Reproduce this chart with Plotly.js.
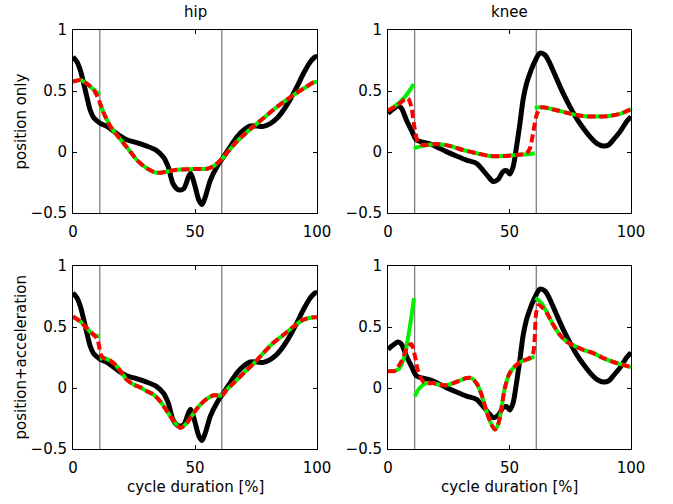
<!DOCTYPE html>
<html>
<head>
<meta charset="utf-8">
<script src="https://cdn.plot.ly/plotly-3.0.1.min.js"></script>
<style>html,body{margin:0;padding:0;background:#fff;}#chart{width:673px;height:504px;}</style>
</head>
<body>
<div id="chart"></div>
<script>
// ---- data ----
const phaseX = [11, 61];

// hip reference (black)
const hipRefX = [0,1.6,3,4.4,5.7,7.1,8.5,11.2,13.9,16.7,19.4,22,26,30,34,37,39,41,43.3,45.4,47.4,48.3,50,51.5,52.9,54.2,56.3,59,61.7,64.5,67.2,70,72.7,75.4,78,81,83.6,86.3,89,91.8,94.5,97.3,99.3,100];
const hipRefY = [0.78,0.74,0.67,0.56,0.45,0.34,0.28,0.235,0.21,0.17,0.13,0.10,0.077,0.05,0.016,-0.04,-0.12,-0.26,-0.31,-0.30,-0.2,-0.175,-0.28,-0.39,-0.43,-0.37,-0.23,-0.12,-0.04,0.044,0.125,0.18,0.213,0.213,0.21,0.235,0.276,0.344,0.43,0.535,0.645,0.74,0.78,0.78];

// hip, position only
const hipPosGreenX = [0,3,5.7,8.5,11,null,11,12.6,15.3,18,20.8,23.5,26.2,30.3,34.4,38.5,42.6,49.5,55,57.7,61,null,61,63,65.8,70,74,78,82,86.3,90.4,94.5,98.6,100];
const hipPosGreenY = [0.577,0.59,0.56,0.51,0.47,null,0.40,0.32,0.21,0.14,0.07,0.003,-0.066,-0.134,-0.17,-0.16,-0.145,-0.14,-0.137,-0.115,-0.06,null,-0.06,-0.01,0.057,0.14,0.21,0.276,0.344,0.41,0.467,0.52,0.57,0.575];
const hipPosRedX = [0,3,5.7,8.5,10.5,12.6,15.3,18,20.8,23.5,26.2,30.3,34.4,38.5,42.6,49.5,55,57.7,60.4,63,65.8,70,74,78,82,86.3,90.4,94.5,98.6,100];
const hipPosRedY = [0.577,0.59,0.56,0.51,0.43,0.32,0.21,0.14,0.07,0.003,-0.066,-0.134,-0.17,-0.16,-0.145,-0.14,-0.137,-0.115,-0.07,-0.01,0.057,0.14,0.21,0.276,0.344,0.41,0.467,0.52,0.57,0.575];

// hip, position + acceleration
const hipAccGreenX = [0,3,5.7,8.5,11,null,11,12.6,15.3,18,20,22,24.9,27.6,30.3,33,35.8,38.5,41.3,44,46.7,49.5,52.2,55,57.7,61,null,61,63,65.8,70,74,78,82,86.3,90.4,94.5,98.6,100];
const hipAccGreenY = [0.586,0.545,0.49,0.436,0.42,null,0.24,0.245,0.223,0.177,0.123,0.068,0.027,0.005,-0.027,-0.054,-0.11,-0.19,-0.27,-0.327,-0.286,-0.204,-0.136,-0.087,-0.06,-0.063,null,-0.063,-0.014,0.04,0.123,0.2,0.286,0.368,0.436,0.504,0.56,0.58,0.58];
const hipAccRedX = [0,3,5.7,8.5,10,11.5,12.6,15.3,18,20,22,24.9,27.6,30.3,33,35.8,38.5,41.3,44,46.7,49.5,52.2,55,57.7,61,63,65.8,70,74,78,82,86.3,90.4,94.5,98.6,100];
const hipAccRedY = [0.586,0.545,0.49,0.436,0.40,0.27,0.245,0.223,0.177,0.123,0.068,0.027,0.005,-0.027,-0.054,-0.11,-0.19,-0.27,-0.327,-0.286,-0.204,-0.136,-0.087,-0.06,-0.063,-0.014,0.04,0.123,0.2,0.286,0.368,0.436,0.504,0.56,0.58,0.58];

// knee reference (black)
const kneeRefX = [0,2,4.1,5.5,7.6,9.6,11.7,14.4,17.2,19.9,24,28.2,32.3,36.4,39.1,41.2,43.3,45.3,47.4,48.8,50.1,51.5,52.9,54.3,55.6,57,58.4,60.4,62.5,64.6,66.6,69.4,72.1,74.9,77.6,80.4,83.1,85.9,88.6,90.7,92.7,95.5,98.2,100];
const kneeRefY = [0.317,0.35,0.377,0.36,0.26,0.18,0.1,0.08,0.066,0.044,0.003,-0.033,-0.066,-0.093,-0.15,-0.2,-0.243,-0.224,-0.16,-0.153,-0.18,-0.12,0.044,0.235,0.43,0.56,0.645,0.74,0.81,0.795,0.727,0.60,0.48,0.37,0.276,0.194,0.126,0.071,0.05,0.057,0.1,0.167,0.25,0.29];

// knee, position only
const kneePosGreenX = [0,3.4,6.9,10.6,null,10.6,14.4,19.9,25.4,30.9,36.4,41.9,47.4,52.9,58.4,60.4,null,60.4,63.5,69,74.5,80,85.4,90.9,95,100];
const kneePosGreenY = [0.34,0.385,0.45,0.557,null,0.03,0.05,0.066,0.05,0.016,-0.01,-0.033,-0.033,-0.025,-0.016,-0.01,null,0.363,0.366,0.344,0.317,0.295,0.29,0.295,0.31,0.35];
const kneePosRedX = [0,3.4,6.9,8.2,9.6,10.9,12.3,14.4,19.9,25.4,30.9,36.4,41.9,47.4,52.9,57,58.4,59.7,61.1,62.5,63.5,69,74.5,80,85.4,90.9,95,100];
const kneePosRedY = [0.34,0.377,0.43,0.44,0.37,0.2,0.085,0.057,0.066,0.05,0.016,-0.01,-0.033,-0.033,-0.025,-0.01,0.03,0.153,0.3,0.358,0.366,0.344,0.317,0.295,0.29,0.295,0.31,0.35];

// knee, position + acceleration
const kneeAccGreenX = [0,2.7,4.8,6.9,8.9,10.7,null,11,13,15.8,18.5,21.3,24,26.8,29.5,32.3,34.3,36.4,38.5,40.5,42.6,44,45.3,46.7,48.1,50.1,52.9,55.6,58.4,60.2,null,60.7,63.2,65.2,68,70.7,73.5,76.2,80.4,84.5,88.6,92.7,96.8,100];
const kneeAccGreenY = [0.14,0.14,0.163,0.27,0.49,0.736,null,-0.068,0,0.04,0.04,0.027,0.022,0.04,0.06,0.082,0.082,0.04,-0.054,-0.19,-0.3,-0.34,-0.3,-0.163,0,0.123,0.19,0.223,0.24,0.26,null,0.74,0.695,0.627,0.518,0.436,0.38,0.35,0.313,0.286,0.245,0.213,0.19,0.17];
const kneeAccRedX = [0,2.7,5.5,8.2,9.6,11,12.4,14.4,15.8,18.5,21.3,24,26.8,29.5,32.3,34.3,36.4,38.5,40.5,42.6,44,45.3,46.7,48.1,50.1,52.9,55.6,57.7,59.5,61,62,63.5,65.2,68,70.7,73.5,76.2,80.4,84.5,88.6,92.7,96.8,100];
const kneeAccRedY = [0.14,0.14,0.218,0.34,0.36,0.27,0.136,0.054,0.04,0.04,0.027,0.022,0.04,0.06,0.082,0.082,0.04,-0.054,-0.19,-0.3,-0.34,-0.3,-0.163,0,0.123,0.19,0.223,0.24,0.27,0.62,0.68,0.66,0.62,0.518,0.436,0.38,0.35,0.313,0.286,0.245,0.213,0.19,0.17];

const xTicks = [0, 50, 100];
const yTicks = [-0.5, 0, 0.5, 1];
const yTickText = ['\u22120.5', '0', '0.5', '1'];
const colTitles = ['hip', 'knee'];
const rowTitles = ['position only', 'position+acceleration'];
const xAxisTitle = 'cycle duration [%]';

// ---- drawing ----
const FONT = 'DejaVu Sans, sans-serif';
const GREEN = '#00f000', RED = '#ff0000', BLACK = '#000000';

function panel(ax, refX, refY, gX, gY, rX, rY) {
  const xa = ax === 1 ? 'x' : 'x' + ax;
  const ya = ax === 1 ? 'y' : 'y' + ax;
  const tr = [];
  phaseX.forEach(p => tr.push({x: [p, p], y: [-0.5, 1], xaxis: xa, yaxis: ya, mode: 'lines',
    line: {color: '#5a5a5a', width: 1}, hoverinfo: 'skip'}));
  tr.push({x: refX, y: refY, xaxis: xa, yaxis: ya, mode: 'lines',
    line: {color: BLACK, width: 5, shape: 'spline', smoothing: 0.8}});
  tr.push({x: gX, y: gY, xaxis: xa, yaxis: ya, mode: 'lines', connectgaps: false,
    line: {color: GREEN, width: 4, shape: 'spline', smoothing: 0.8}});
  tr.push({x: rX, y: rY, xaxis: xa, yaxis: ya, mode: 'lines',
    line: {color: RED, width: 4, dash: '8px,4px', shape: 'spline', smoothing: 0.8}});
  return tr;
}

const data = [].concat(
  panel(1, hipRefX, hipRefY, hipPosGreenX, hipPosGreenY, hipPosRedX, hipPosRedY),
  panel(2, kneeRefX, kneeRefY, kneePosGreenX, kneePosGreenY, kneePosRedX, kneePosRedY),
  panel(3, hipRefX, hipRefY, hipAccGreenX, hipAccGreenY, hipAccRedX, hipAccRedY),
  panel(4, kneeRefX, kneeRefY, kneeAccGreenX, kneeAccGreenY, kneeAccRedX, kneeAccRedY)
);

const W = 673, H = 504;
const xL = [73 / W, 317 / W], xR = [388 / W, 631 / W];
const yT = [1 - 213 / H, 1 - 30 / H], yB = [1 - 449 / H, 1 - 266 / H];

function xax(dom, anchor) {
  return {domain: dom, anchor: anchor, range: [0, 100], tickvals: xTicks, ticktext: xTicks.map(String),
    ticks: 'inside', ticklen: 4, tickcolor: BLACK, showline: true, linecolor: BLACK, linewidth: 1,
    mirror: 'ticks', showgrid: false, zeroline: false, ticklabelstandoff: 5,
    tickfont: {family: FONT, size: 15, color: BLACK}};
}
function yax(dom, anchor) {
  return {domain: dom, anchor: anchor, range: [-0.5, 1], tickvals: yTicks, ticktext: yTickText,
    ticks: 'inside', ticklen: 4, tickcolor: BLACK, showline: true, linecolor: BLACK, linewidth: 1,
    mirror: 'ticks', showgrid: false, zeroline: false, ticklabelstandoff: 2,
    tickfont: {family: FONT, size: 15, color: BLACK}};
}

function ann(text, x, y, angle) {
  return {text: text, x: x, y: y, xref: 'paper', yref: 'paper', showarrow: false,
    xanchor: 'center', yanchor: 'middle', textangle: angle || 0,
    font: {family: FONT, size: 15, color: BLACK}};
}

const layout = {
  width: W, height: H, margin: {l: 0, r: 0, t: 0, b: 0},
  paper_bgcolor: '#fff', plot_bgcolor: '#fff', showlegend: false,
  xaxis: xax(xL, 'y'), yaxis: yax(yT, 'x'),
  xaxis2: xax(xR, 'y2'), yaxis2: yax(yT, 'x2'),
  xaxis3: xax(xL, 'y3'), yaxis3: yax(yB, 'x3'),
  xaxis4: xax(xR, 'y4'), yaxis4: yax(yB, 'x4'),
  annotations: [
    ann(colTitles[0], 195 / W, 1 - 12 / H),
    ann(colTitles[1], 509.5 / W, 1 - 12 / H),
    ann(xAxisTitle, 195 / W, 1 - 487 / H),
    ann(xAxisTitle, 509.5 / W, 1 - 487 / H),
    ann(rowTitles[0], 20 / W, 1 - 121.5 / H, -90),
    ann(rowTitles[1], 20 / W, 1 - 357.5 / H, -90)
  ]
};

Plotly.newPlot('chart', data, layout, {staticPlot: true, displayModeBar: false});
</script>
</body>
</html>
